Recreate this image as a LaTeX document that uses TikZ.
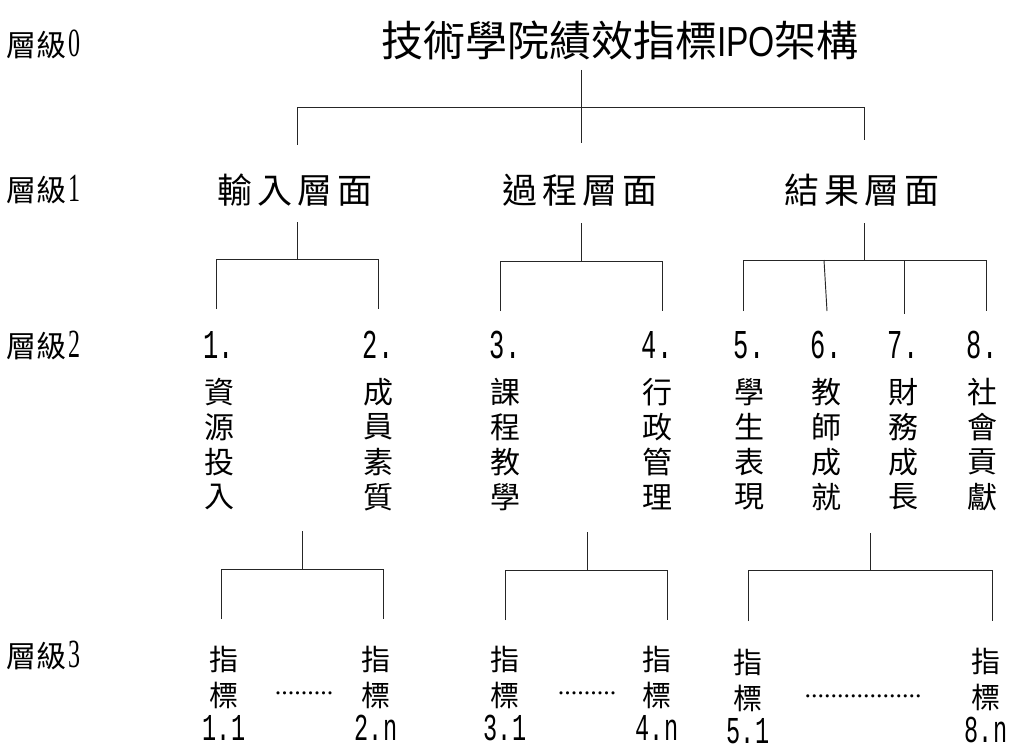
\documentclass[tikz,border=0pt]{standalone}
\usepackage{fontspec}
\newfontfamily\cjk{Noto Sans CJK TC}
\newfontfamily\dig[FakeStretch=0.62]{Liberation Mono}
\newfontfamily\digs[FakeStretch=0.6]{Liberation Serif}
\newfontfamily\lat[FakeStretch=0.8]{Liberation Sans}
\newfontfamily\dotf{Liberation Serif}
\tikzset{
  conn/.style={draw=black!85, line width=0.95pt},
  titletext/.style={font=\cjk\fontsize{42}{46}\selectfont, inner sep=0pt},
  lvltext/.style={font=\cjk\fontsize{30}{32}\selectfont, inner sep=0pt, anchor=west},
  l1text/.style={font=\cjk\fontsize{35}{38}\selectfont, inner sep=0pt},
  chtext/.style={font=\cjk\fontsize{30}{32}\selectfont, inner sep=0pt},
  chsmall/.style={font=\cjk\fontsize{29}{31}\selectfont, inner sep=0pt},
  numtext/.style={font=\dig\fontsize{41}{43}\selectfont, inner sep=0pt},
  numsmall/.style={font=\dig\fontsize{38}{40}\selectfont, inner sep=0pt},
  dottext/.style={font=\dotf\fontsize{26}{30}\selectfont, inner sep=0pt}
}
\newcommand{\lvdig}[1]{\kern2pt{\digs\fontsize{40}{42}\selectfont #1}}
\begin{document}
\begin{tikzpicture}[x=1pt,y=-1pt]
\useasboundingbox[fill=white] (0,0) rectangle (1015,749);

% level labels
\node[lvltext] (lv0) at (6,44) {層級\lvdig{0}};
\node[lvltext] (lv1) at (6,190) {層級\lvdig{1}};
\node[lvltext] (lv2) at (6,345) {層級\lvdig{2}};
\node[lvltext] (lv3) at (6,655) {層級\lvdig{3}};

% title
\node[titletext] (title) at (620,40) {技術學院績效指標{\lat\fontsize{42}{46}\selectfont IPO}架構};

% level 1
\node[l1text] (in)  at (295,190) {輸\kern5pt 入\kern5pt 層\kern5pt 面};
\node[l1text] (pro) at (580,190) {過\kern5pt 程\kern5pt 層\kern5pt 面};
\node[l1text] (res) at (862,190) {結\kern5pt 果\kern5pt 層\kern5pt 面};

% level 2 columns
\foreach \x/\n/\a/\b/\c/\d/\nm in {
  219/1./資/源/投/入/ka, 378/2./成/員/素/質/kb,
  505/3./課/程/教/學/kc, 657/4./行/政/管/理/kd,
  749/5./學/生/表/現/ke, 826/6./教/師/成/就/kf,
  903/7./財/務/成/長/kg, 982/8./社/會/貢/獻/kh}{
  \node[numtext] (\nm0) at (\x,345) {\n};
  \node[chtext] (\nm1) at (\x,392) {\a};
  \node[chtext] (\nm2) at (\x,427) {\b};
  \node[chtext] (\nm3) at (\x,462) {\c};
  \node[chtext] (\nm4) at (\x,497) {\d};
}

% level 3 columns
\foreach \x/\y/\n/\nm in {224/0/1.1/ia, 376/0/2.n/ib, 505/0/3.1/ic, 657/0/4.n/id, 748/3/5.1/ie, 986/2/8.n/if}{
  \node[chsmall] (\nm1) at (\x,659+\y) {指};
  \node[chsmall] (\nm2) at (\x,695+\y) {標};
  \node[numsmall] (\nm3) at (\x,728+\y) {\n};
}
\node[dottext] (dots1) at (304,693) {.........};
\node[dottext] (dots2) at (587,693) {.........};
\node[dottext] (dots3) at (863,696) {..................};

% connectors level 0 -> 1
\coordinate (c0s) at (581,70);
\coordinate (c0e) at (581,143);
\coordinate (c0l) at (297,107);
\coordinate (c0r) at (864,107);
\coordinate (c0lb) at (297,145);
\coordinate (c0rb) at (864,140);
\draw[conn] (c0s) -- (c0e);
\draw[conn] (c0lb) -- (c0l) -- (c0r) -- (c0rb);

% level 1 -> 2, left
\coordinate (a1s) at (297,222);
\coordinate (a1j) at (297,259);
\coordinate (a1l) at (216,259);
\coordinate (a1r) at (378,259);
\coordinate (a1lb) at (216,309);
\coordinate (a1rb) at (378,309);
\draw[conn] (a1s) -- (a1j);
\draw[conn] (a1lb) -- (a1l) -- (a1r) -- (a1rb);
% middle
\coordinate (b1s) at (581,223);
\coordinate (b1j) at (581,261);
\coordinate (b1l) at (500,261);
\coordinate (b1r) at (662,261);
\coordinate (b1lb) at (500,311);
\coordinate (b1rb) at (662,311);
\draw[conn] (b1s) -- (b1j);
\draw[conn] (b1lb) -- (b1l) -- (b1r) -- (b1rb);
% right
\coordinate (c1s) at (864,223);
\coordinate (c1j) at (864,260);
\coordinate (c1l) at (743,260);
\coordinate (c1r) at (986,260);
\coordinate (c1lb) at (743,311);
\coordinate (c1rb) at (986,311);
\coordinate (c1a) at (824,260);
\coordinate (c1ab) at (827,311);
\coordinate (c1b) at (904,260);
\coordinate (c1bb) at (904,314);
\draw[conn] (c1s) -- (c1j);
\draw[conn] (c1lb) -- (c1l) -- (c1r) -- (c1rb);
\draw[conn] (c1a) -- (c1ab);
\draw[conn] (c1b) -- (c1bb);

% level 2 -> 3, left
\coordinate (a2s) at (302,531);
\coordinate (a2j) at (302,569);
\coordinate (a2l) at (221,569);
\coordinate (a2r) at (383,569);
\coordinate (a2lb) at (221,619);
\coordinate (a2rb) at (383,619);
\draw[conn] (a2s) -- (a2j);
\draw[conn] (a2lb) -- (a2l) -- (a2r) -- (a2rb);
% middle
\coordinate (b2s) at (587,532);
\coordinate (b2j) at (587,570);
\coordinate (b2l) at (505,570);
\coordinate (b2r) at (667,570);
\coordinate (b2lb) at (505,620);
\coordinate (b2rb) at (667,620);
\draw[conn] (b2s) -- (b2j);
\draw[conn] (b2lb) -- (b2l) -- (b2r) -- (b2rb);
% right
\coordinate (c2s) at (870,533);
\coordinate (c2j) at (870,570);
\coordinate (c2l) at (748,570);
\coordinate (c2r) at (992,570);
\coordinate (c2lb) at (748,621);
\coordinate (c2rb) at (992,621);
\draw[conn] (c2s) -- (c2j);
\draw[conn] (c2lb) -- (c2l) -- (c2r) -- (c2rb);
\end{tikzpicture}
\end{document}
